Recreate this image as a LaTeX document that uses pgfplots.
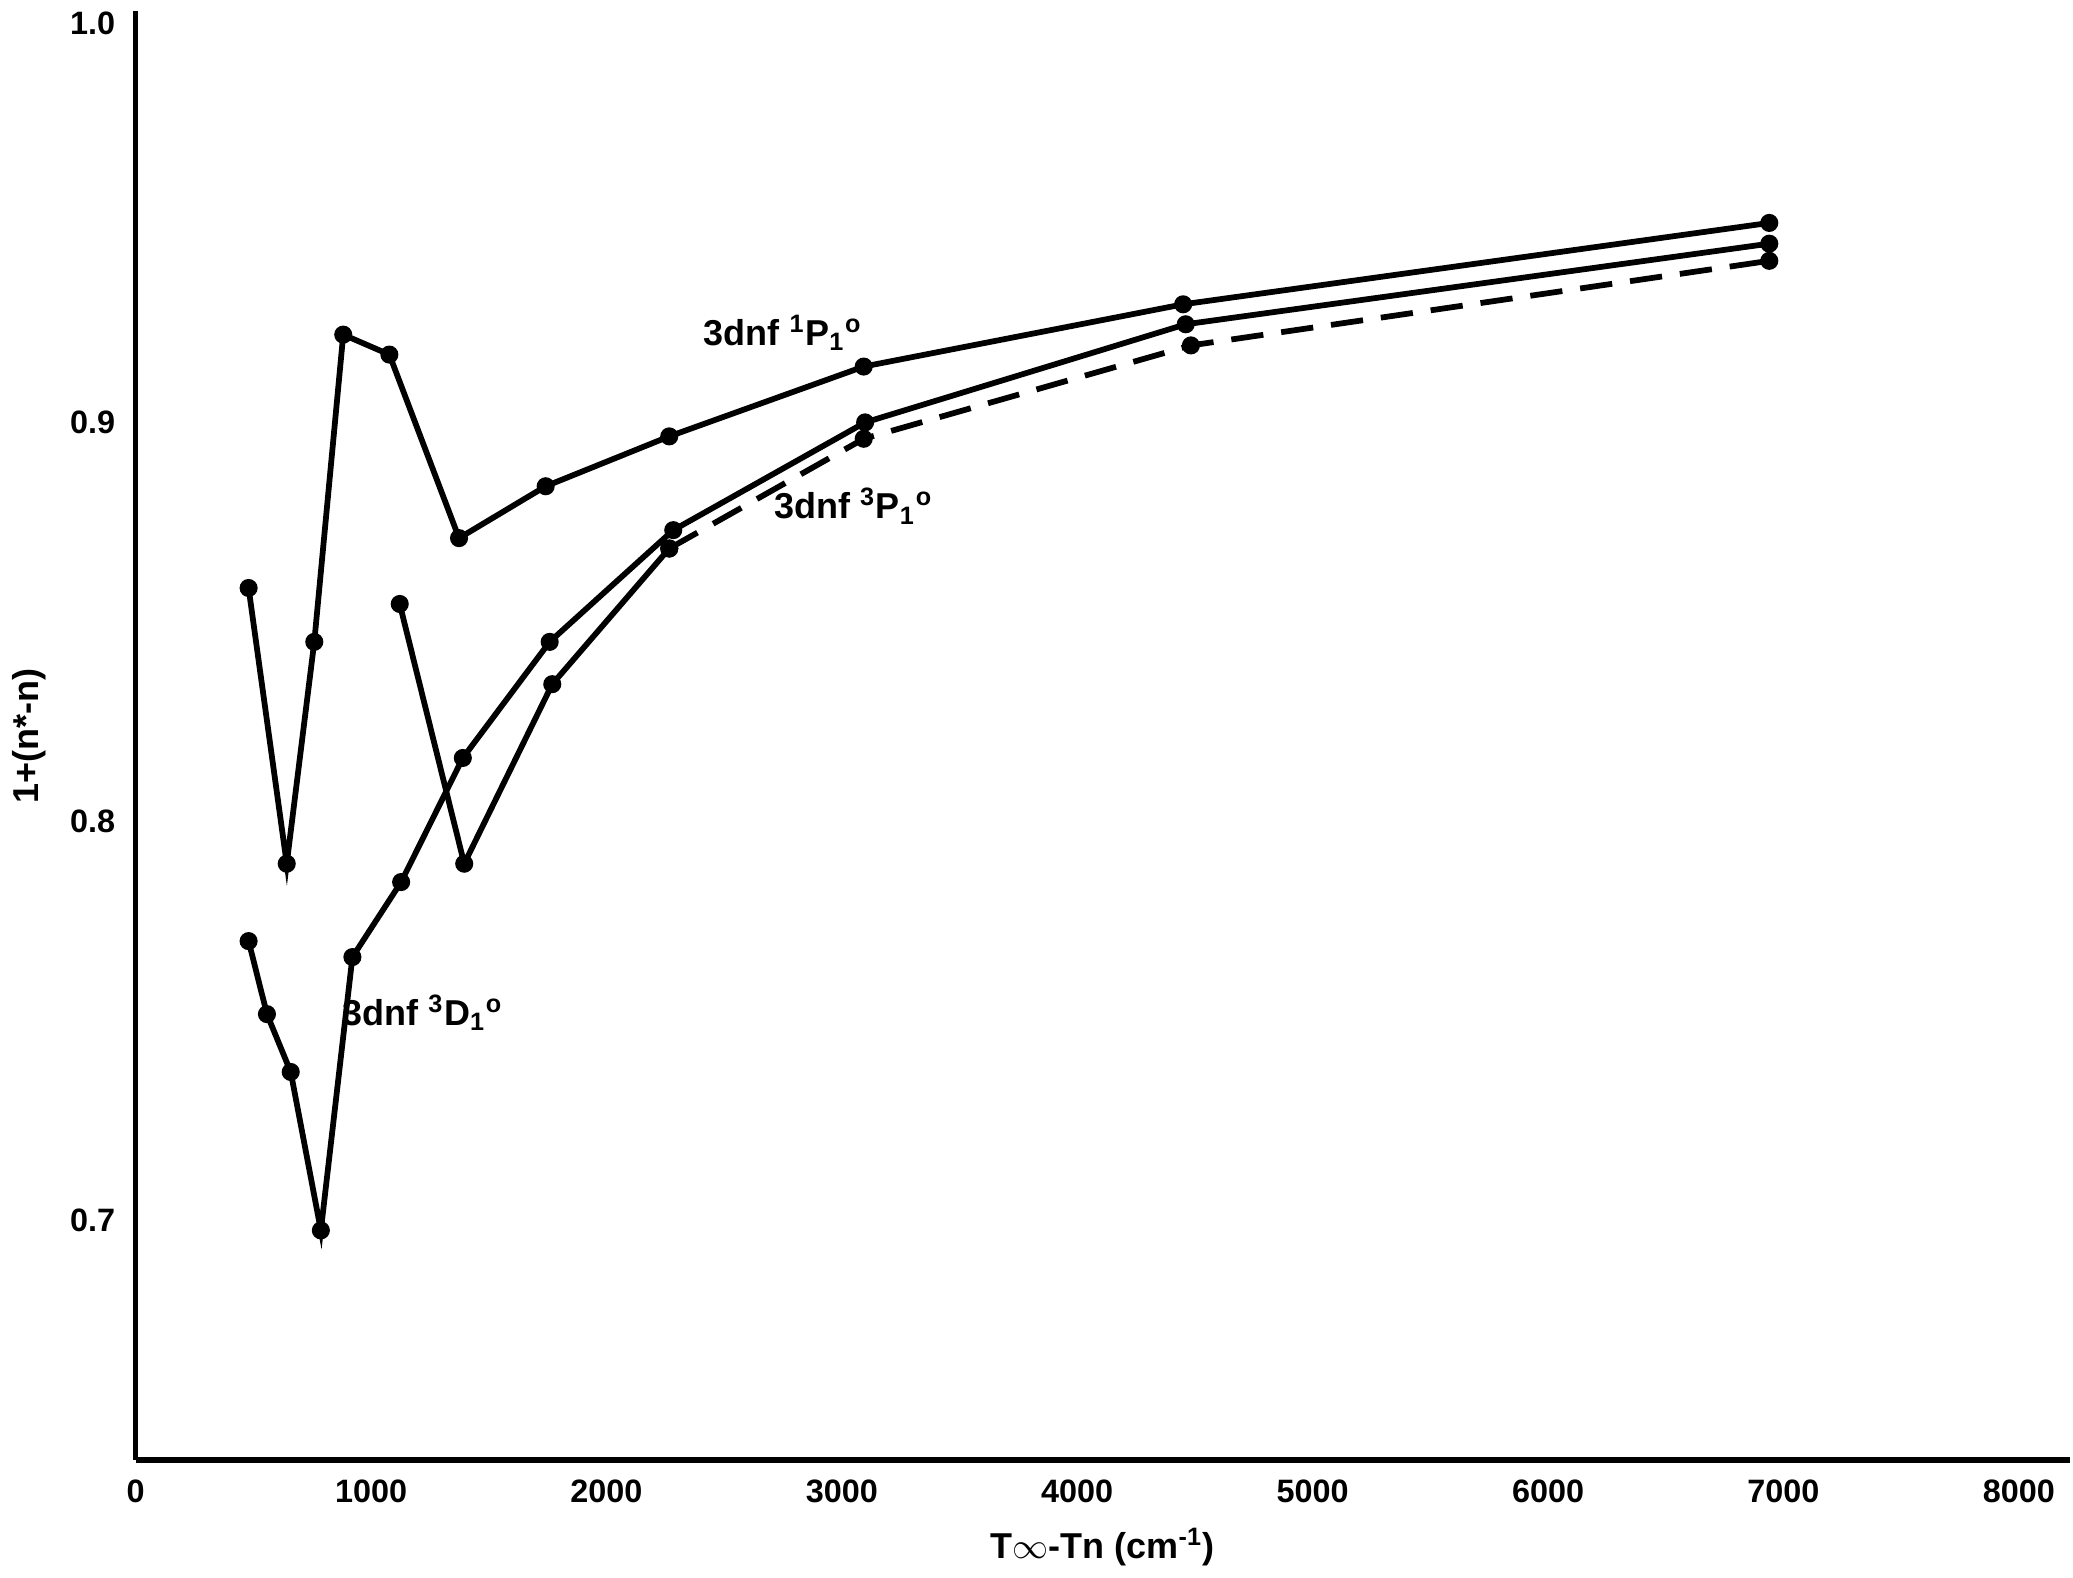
\documentclass[border=0pt]{standalone}
\usepackage{pgfplots}
\pgfplotsset{compat=1.18}
\usepackage{fontspec}
\setmainfont{Liberation Sans}
\begin{document}
\begin{tikzpicture}
\begin{axis}[
  width=18.9cm, height=14.15cm, scale only axis,
  axis lines=left, axis line style={line width=1.6pt,-},
  xmin=0, xmax=8218, ymin=0.64, ymax=1.003,
  xtick={0,1000,...,8000}, ytick={0.7,0.8,0.9,1.0},
  yticklabels={0.7,0.8,0.9,1.0},
  scaled x ticks=false, xticklabel style={/pgf/number format/1000 sep=},
  /pgf/number format/assume math mode=true,
  tick style={draw=none},
  ticklabel style={font=\bfseries\small},
  xlabel={\bfseries T$\infty$-Tn (cm\textsuperscript{-1})},
  ylabel={\bfseries 1+(n*-n)},
  cycle list={{black}},
  every axis plot/.append style={black, line width=1.6pt, mark=*, mark size=1.7pt, mark options={solid,fill=black}},
  clip=false
]
\addplot coordinates {(480,0.8585)(642,0.7894)(759,0.845)(882,0.922)(1078,0.917)(1374,0.871)(1742,0.884)(2267,0.8965)(3093,0.914)(4450,0.9296)(6940,0.950)};
\addplot coordinates {(480,0.770)(558,0.7517)(659,0.7372)(787,0.6975)(921,0.766)(1128,0.7848)(1390,0.8159)(1759,0.845)(2284,0.873)(3099,0.900)(4461,0.9246)(6940,0.9448)};
\addplot coordinates {(1122,0.8545)(1396,0.7894)(1770,0.8344)(2267,0.8684)};
\addplot[dash pattern=on 9pt off 5pt] coordinates {(2267,0.8684)(3093,0.8959)(4483,0.9193)(6940,0.9405)};
\node[font=\bfseries] at (axis cs:2750,0.9225) {3dnf \textsuperscript{1}P\textsubscript{1}\textsuperscript{o}};
\node[font=\bfseries] at (axis cs:3050,0.879) {3dnf \textsuperscript{3}P\textsubscript{1}\textsuperscript{o}};
\node[font=\bfseries] at (axis cs:1220,0.752) {3dnf \textsuperscript{3}D\textsubscript{1}\textsuperscript{o}};
\end{axis}
\end{tikzpicture}
\end{document}
